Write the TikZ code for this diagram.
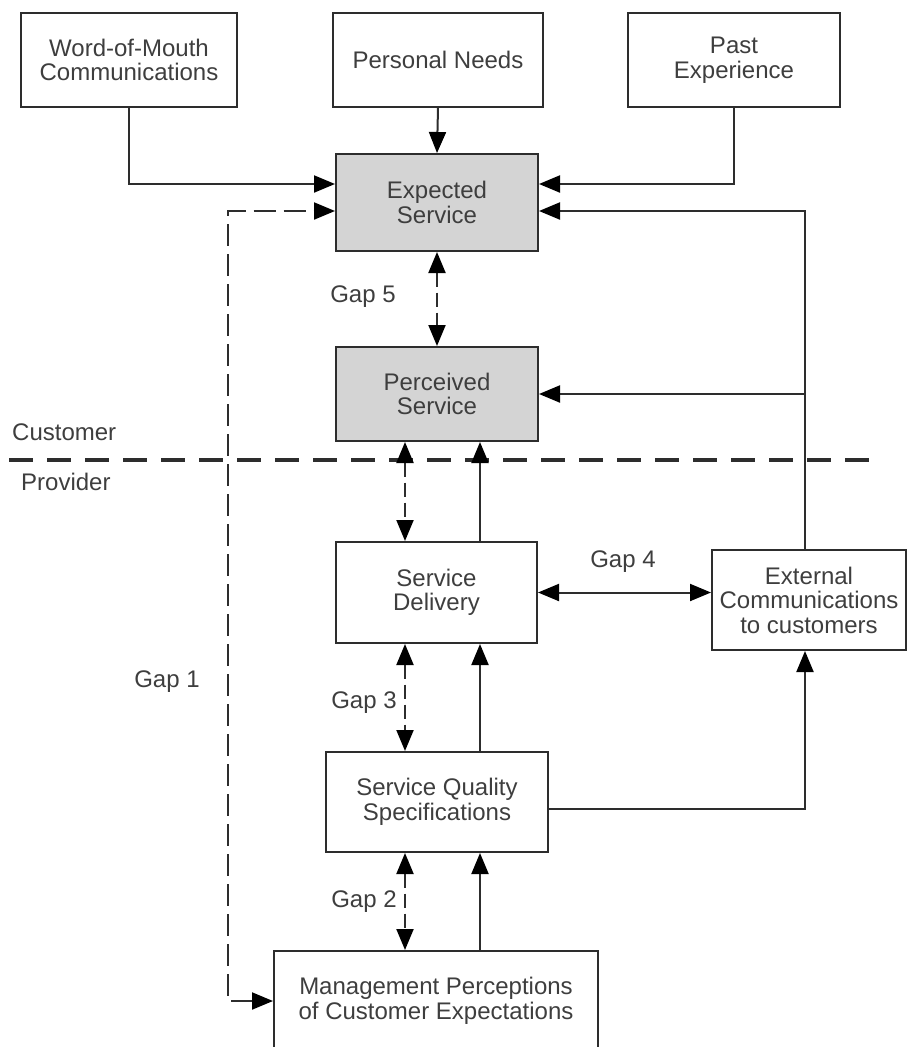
\documentclass[tikz,border=0pt]{standalone}
\usepackage{fontspec}
\setmainfont{Liberation Sans}
\definecolor{GapInk}{RGB}{45, 45, 45}
\definecolor{GapText}{RGB}{62, 62, 62}
\definecolor{GapFill}{RGB}{212, 212, 212}
\usetikzlibrary{arrows.meta}

\begin{document}
\begin{tikzpicture}[x=1pt, y=-1pt,
    boxnode/.style={draw=GapInk, line width=2pt, text=GapText, align=center,
      inner sep=0pt, font=\fontsize{24}{24.5}\selectfont},
    greynode/.style={boxnode, fill=GapFill},
    gaptext/.style={text=GapText, font=\fontsize{24}{24.5}\selectfont, inner sep=0pt},
    flow/.style={draw=GapInk, line width=2pt, -{Triangle[length=21pt, width=17pt, color=black]}},
    twoway/.style={flow, {Triangle[length=21pt, width=17pt, color=black]}-{Triangle[length=21pt, width=17pt, color=black]}},
    gaparr/.style={twoway, dash pattern=on 14pt off 6pt},
    gapline/.style={twoway, dash pattern=on 22pt off 8pt}]
  \useasboundingbox (0,0) rectangle (907,1047);

  % customer side
  \node[boxnode, minimum width=216pt, minimum height=94pt] (wom) at (129,60) {Word-of-Mouth\\Communications};
  \node[boxnode, minimum width=210pt, minimum height=94pt] (pn) at (438,60) {Personal Needs};
  \node[boxnode, minimum width=212pt, minimum height=94pt] (pe) at (734,60) {Past\\Experience};
  \node[greynode, minimum width=202pt, minimum height=97pt] (exp) at (437,202.5) {Expected\\Service};
  \node[greynode, minimum width=202pt, minimum height=94pt] (per) at (437,394) {Perceived\\Service};

  % provider side
  \node[boxnode, minimum width=201pt, minimum height=101pt] (sd) at (436.5,592.5) {Service\\Delivery};
  \node[boxnode, minimum width=194pt, minimum height=100pt] (ext) at (809,600) {External\\Communications\\to customers};
  \node[boxnode, minimum width=222pt, minimum height=100pt] (sqs) at (437,802) {Service Quality\\Specifications};
  \node[boxnode, minimum width=324pt, minimum height=100pt] (mgmt) at (436,1001) {Management Perceptions\\of Customer Expectations};

  \coordinate (in1) at (0,184);
  \coordinate (in2) at (0,211);
  \coordinate (dx) at (405,0);
  \coordinate (sx) at (480,0);
  \coordinate (rx) at (805,0);
  \coordinate (gx) at (228,0);
  \coordinate (sqy) at (0,809);

  \node[gaptext] (g5) at (363,297) {Gap 5};
  \node[gaptext] (g4) at (623,562) {Gap 4};
  \node[gaptext] (g3) at (364,703) {Gap 3};
  \node[gaptext] (g2) at (364,902) {Gap 2};
  \node[gaptext] (g1) at (167,682) {Gap 1};
  \node[gaptext, anchor=west] (cust) at (12,432) {Customer};
  \node[gaptext, anchor=west] (prov) at (21,482) {Provider};

  \draw[draw=GapInk, line width=4pt, dash pattern=on 24pt off 14pt] (9,460) -- (872,460);

  \draw[flow] (wom.south) |- (exp.west |- in1);
  \draw[flow] (pn.south) -- (exp.north);
  \draw[flow] (pe.south) |- (exp.east |- in1);
  \draw[flow] (ext.north -| rx) |- (exp.east |- in2);
  \draw[flow] (rx |- per.east) -- (per.east);
  \draw[gaparr] (exp.south) -- (per.north);

  \draw[gaparr] (per.south -| dx) -- (sd.north -| dx);
  \draw[flow] (sd.north -| sx) -- (per.south -| sx);
  \draw[twoway] (sd.east) -- (sd.east -| ext.west);
  \draw[gaparr] (sd.south -| dx) -- (sqs.north -| dx);
  \draw[flow] (sqs.north -| sx) -- (sd.south -| sx);
  \draw[flow] (sqs.east |- sqy) -| (ext.south -| rx);
  \draw[gaparr] (sqs.south -| dx) -- (mgmt.north -| dx);
  \draw[flow] (mgmt.north -| sx) -- (sqs.south -| sx);
  \draw[gapline] (mgmt.west) -- (mgmt.west -| gx) |- (exp.west |- in2);
\end{tikzpicture}
\end{document}
